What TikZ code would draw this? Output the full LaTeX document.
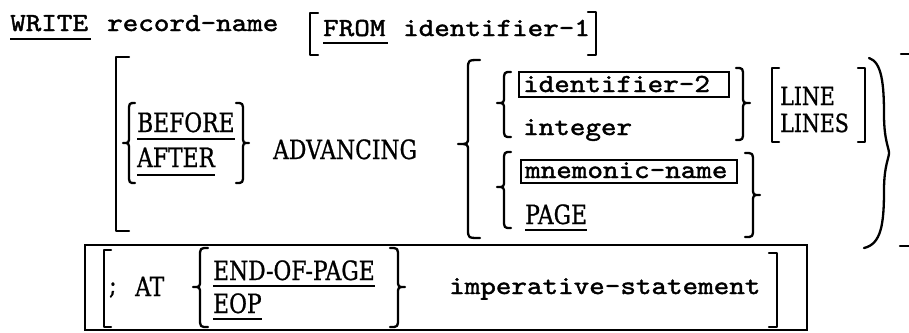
\documentclass[tikz,border=0pt]{standalone}
\usepackage{fontspec}
\setmainfont{DejaVu Serif}[FakeStretch=0.82, FakeBold=0.8]
\newfontfamily\typew{lmmono10-regular.otf}[FakeStretch=1.14, FakeBold=1.6]
\usetikzlibrary{calc}

% curly brace opening to the right: tip x, body x, hook x, top, middle, bottom
\newcommand{\LCurl}[6]{%
  \draw[glyph] (#3,#4) .. controls (#2,#4) .. (#2,{#4+9}) -- (#2,{#5-7})
    .. controls (#2,#5) .. (#1,#5) .. controls (#2,#5) .. (#2,{#5+7})
    -- (#2,{#6-9}) .. controls (#2,#6) .. (#3,#6);}
% curly brace opening to the left: hook x, body x, tip x, top, middle, bottom
\newcommand{\RCurl}[6]{%
  \draw[glyph] (#1,#4) .. controls (#2,#4) .. (#2,{#4+9}) -- (#2,{#5-7})
    .. controls (#2,#5) .. (#3,#5) .. controls (#2,#5) .. (#2,{#5+7})
    -- (#2,{#6-9}) .. controls (#2,#6) .. (#1,#6);}
% square brackets: x, top, bottom, serif length
\newcommand{\LSquare}[4]{%
  \draw[glyph] ({#1+#4},#2) -- (#1,#2) -- (#1,#3) -- ({#1+#4},#3);}
\newcommand{\RSquare}[4]{%
  \draw[glyph] ({#1-#4},#2) -- (#1,#2) -- (#1,#3) -- ({#1-#4},#3);}

\tikzset{
  mono/.style={font=\typew\fontsize{26}{30}\selectfont, inner sep=0pt, anchor=base west},
  serif/.style={font=\fontsize{26.6}{30}\selectfont, inner sep=0pt, anchor=base west},
  small serif/.style={serif, font=\fontsize{25}{30}\selectfont},
  glyph/.style={line width=2.3pt, line cap=round, line join=round},
  uline/.style={line width=1.8pt},
  frame/.style={line width=2.4pt},
}

\begin{document}
\begin{tikzpicture}[x=1pt, y=-1pt]
\fill[white] (0,0) rectangle (909,332);
\useasboundingbox (0,0) rectangle (909,332);

% ---- first line
\node[mono] (write) at (10,31) {WRITE};
\node[mono] (recname) at (107,31) {record-name};
\node[mono] (from) at (323,36) {FROM};
\node[mono] (ident1) at (403,36) {identifier-1};
\draw[uline] ([yshift=-8pt]write.base west) -- ([yshift=-8pt,xshift=3pt]write.base east);
\draw[uline] ([yshift=-7pt]from.base west) -- ([yshift=-7pt,xshift=2pt]from.base east);
\LSquare{310}{13}{55}{8}
\RSquare{596}{12}{55}{8}

% ---- ADVANCING phrase
\LSquare{116}{57}{231}{13}
\LCurl{123}{129}{135}{103}{143}{183}
\node[serif] (before) at (137,132) {BEFORE};
\node[serif] (after) at (137,167) {AFTER};
\draw[uline] ([yshift=-7pt]before.base west) -- ([yshift=-7pt]before.base east);
\draw[uline] ([yshift=-8pt]after.base west) -- ([yshift=-8pt]after.base east);
\RCurl{236}{243}{249}{103}{143}{183}
\node[serif] (adv) at (273,159) {ADVANCING};

% outer choice brace
\LCurl{458}{468}{480}{60}{144}{238}

% identifier-2 / integer
\LCurl{497}{504}{511}{72}{103}{137}
\node[mono] (ident2) at (523,92) {identifier-2};
\draw[frame] (519,72) rectangle (729,97);
\node[mono] (integer) at (523,135) {integer};
\RCurl{736}{743}{750}{68}{103}{140}

% LINE / LINES
\LSquare{772}{68}{142}{7}
\node[small serif] (line) at (780,105) {LINE};
\node[small serif] (lines) at (780,132) {LINES};
\RSquare{865}{68}{142}{7}

% mnemonic-name / PAGE
\LCurl{497}{504}{511}{152}{187}{228}
\node[mono] (mnem) at (525,178) {mnemonic-name};
\draw[frame] (521,160) rectangle (737,183);
\node[serif] (page) at (525,224) {PAGE};
\draw[uline] ([yshift=-6pt]page.base west) -- ([yshift=-6pt]page.base east);
\RCurl{745}{753}{760}{153}{195}{237}

% closing of the optional phrase
\draw[glyph] (869,58) .. controls (882,62) and (884,85) .. (884,115)
  .. controls (884,140) and (889,148) .. (889,153)
  .. controls (889,158) and (884,166) .. (884,190)
  .. controls (884,225) and (881,244) .. (864,248);
\draw[glyph] (901,54) -- (909,54);
\draw[glyph] (900,246) -- (909,246);

% ---- AT END-OF-PAGE phrase
\draw[frame] (85,245) rectangle (807,330);
\LSquare{104}{250}{327}{7}
\node[serif] (semi) at (109,294) {;};
\node[serif] (at) at (135,296) {AT};
\LCurl{193}{200}{208}{248}{287}{327}
\node[serif] (eopage) at (213,280) {END-OF-PAGE};
\node[serif] (eop) at (213,313) {EOP};
\draw[uline] ([yshift=-6pt]eopage.base west) -- ([yshift=-6pt]eopage.base east);
\draw[uline] ([yshift=-6pt]eop.base west) -- ([yshift=-6pt]eop.base east);
\RCurl{390}{398}{405}{248}{287}{327}
\node[mono] (imper) at (449,294) {imperative-statement};
\RSquare{777}{253}{327}{8}
\end{tikzpicture}
\end{document}
